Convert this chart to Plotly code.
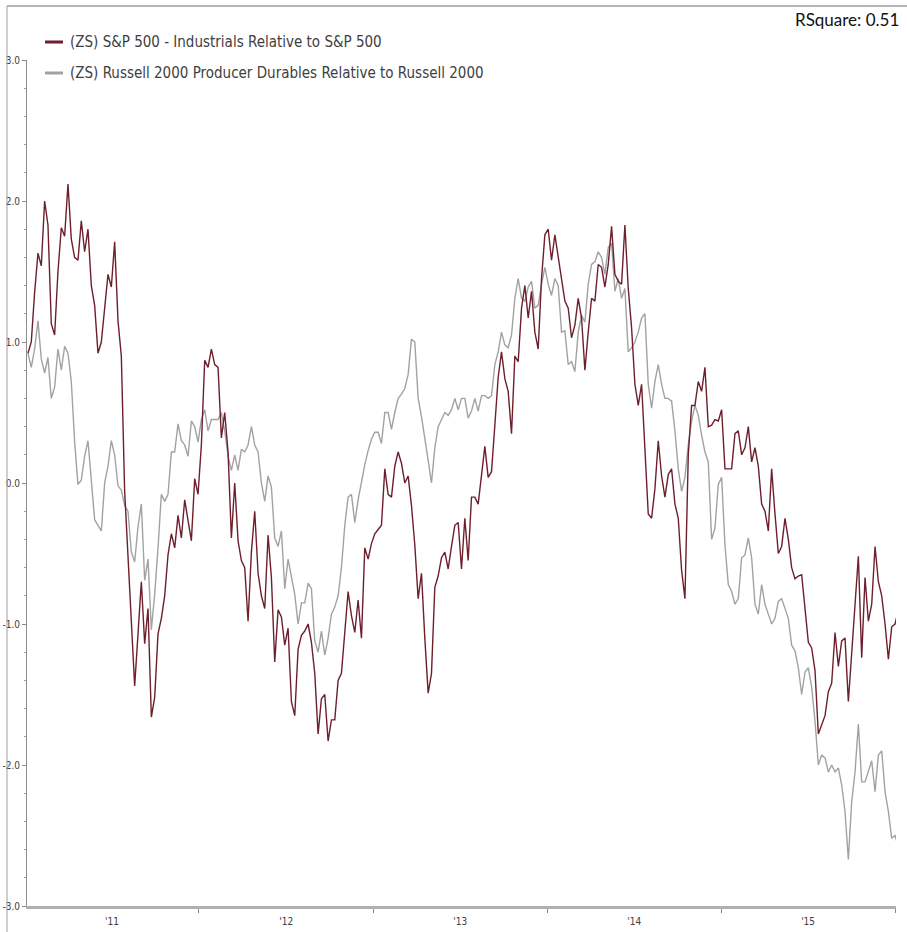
import pandas as pd
import plotly.graph_objects as go

# Weekly z-scores of sector performance relative to the broad index
dates = pd.date_range("2011-01-07", periods=262, freq="7D")

sp500_industrials = [
    0.92, 1.0, 1.35, 1.63, 1.54, 2.0, 1.83, 1.13, 1.05, 1.5,
    1.81, 1.75, 2.12, 1.73, 1.6, 1.58, 1.86, 1.64, 1.8, 1.4,
    1.26, 0.92, 1.0, 1.25, 1.48, 1.39, 1.71, 1.15, 0.9, -0.06,
    -0.5, -0.96, -1.44, -1.07, -0.7, -1.14, -0.89, -1.66, -1.52, -1.07,
    -0.96, -0.8, -0.51, -0.36, -0.46, -0.23, -0.39, -0.12, -0.28, -0.41,
    0.03, -0.08, 0.27, 0.87, 0.82, 0.95, 0.84, 0.82, 0.32, 0.5,
    0.22, -0.39, 0.0, -0.41, -0.55, -0.6, -0.98, -0.49, -0.2, -0.64,
    -0.8, -0.89, -0.37, -0.67, -1.27, -0.9, -0.95, -1.15, -1.03, -1.55,
    -1.65, -1.18, -1.08, -1.05, -1.0, -1.13, -1.35, -1.78, -1.53, -1.5,
    -1.83, -1.68, -1.68, -1.4, -1.35, -1.03, -0.77, -0.94, -1.06, -0.83,
    -1.1, -0.46, -0.54, -0.43, -0.36, -0.33, -0.3, 0.1, -0.08, -0.1,
    0.12, 0.22, 0.14, 0.0, 0.05, -0.16, -0.44, -0.82, -0.64, -1.1,
    -1.49, -1.35, -0.74, -0.66, -0.53, -0.49, -0.61, -0.45, -0.3, -0.28,
    -0.61, -0.25, -0.55, -0.1, -0.1, -0.15, 0.06, 0.26, 0.04, 0.08,
    0.41, 0.75, 0.93, 0.74, 0.65, 0.35, 0.9, 0.86, 1.24, 1.4,
    1.17, 1.36, 1.07, 0.95, 1.45, 1.76, 1.8, 1.58, 1.76, 1.6,
    1.45, 1.29, 1.24, 1.03, 1.12, 1.31, 1.17, 0.8, 1.07, 1.31,
    1.29, 1.55, 1.53, 1.39, 1.55, 1.82, 1.48, 1.43, 1.41, 1.83,
    1.38, 1.1, 0.7, 0.55, 0.7, 0.2, -0.22, -0.25, -0.04, 0.3,
    0.05, -0.1, 0.06, 0.1, -0.15, -0.25, -0.62, -0.82, 0.2, 0.55,
    0.55, 0.72, 0.65, 0.82, 0.4, 0.41, 0.45, 0.44, 0.52, 0.1,
    0.1, 0.1, 0.35, 0.37, 0.2, 0.25, 0.4, 0.15, 0.25, 0.12,
    -0.15, -0.2, -0.34, 0.1, -0.22, -0.5, -0.45, -0.25, -0.4, -0.6,
    -0.68, -0.66, -0.65, -0.9, -1.13, -1.17, -1.33, -1.78, -1.72, -1.65,
    -1.48, -1.42, -1.06, -1.3, -1.12, -1.1, -1.55, -1.2, -0.8, -0.52,
    -1.24, -0.67, -0.98, -0.86, -0.45, -0.7, -0.8, -1.0, -1.25, -1.02,
    -1.0, -0.9,
]

r2000_producer_durables = [
    0.92, 0.82, 0.95, 1.15, 0.88, 0.78, 0.89, 0.6, 0.68, 0.95,
    0.8, 0.97, 0.92, 0.72, 0.29, -0.01, 0.02, 0.19, 0.3, -0.01,
    -0.26, -0.3, -0.34, 0.0, 0.12, 0.3, 0.2, -0.02, -0.05, -0.16,
    -0.2, -0.49, -0.56, -0.31, -0.15, -0.69, -0.54, -1.04, -0.79, -0.46,
    -0.08, -0.13, -0.08, 0.22, 0.22, 0.42, 0.3, 0.27, 0.19, 0.44,
    0.4, 0.29, 0.45, 0.52, 0.37, 0.45, 0.45, 0.45, 0.5, 0.37,
    0.19, 0.09, 0.2, 0.09, 0.24, 0.22, 0.27, 0.4, 0.27, 0.22,
    0.0, -0.13, 0.05, -0.03, -0.39, -0.45, -0.34, -0.75, -0.54, -0.66,
    -0.79, -1.0, -0.85, -0.85, -0.71, -0.75, -1.12, -1.2, -1.05, -1.22,
    -1.1, -0.93, -0.88, -0.8, -0.6, -0.3, -0.1, -0.08, -0.28, -0.12,
    0.02, 0.13, 0.23, 0.31, 0.36, 0.36, 0.28, 0.5, 0.5, 0.38,
    0.5, 0.6, 0.63, 0.67, 0.77, 1.02, 1.0, 0.6, 0.47, 0.3,
    0.16, 0.0, 0.25, 0.4, 0.45, 0.5, 0.48, 0.52, 0.6, 0.52,
    0.6, 0.6, 0.46, 0.51, 0.6, 0.51, 0.62, 0.62, 0.6, 0.62,
    0.84, 0.93, 1.07, 0.98, 0.96, 1.05, 1.31, 1.45, 1.31, 1.29,
    1.39, 1.43, 1.24, 1.26, 1.41, 1.53, 1.41, 1.33, 1.45, 1.4,
    1.07, 1.08, 0.84, 0.86, 0.79, 1.07, 1.19, 1.14, 1.41, 1.55,
    1.57, 1.64, 1.6, 1.48, 1.67, 1.7, 1.36, 1.45, 1.31, 1.38,
    0.93, 0.96, 1.0, 1.07, 1.17, 1.2, 0.7, 0.53, 0.72, 0.84,
    0.7, 0.6, 0.6, 0.58, 0.37, 0.1, -0.06, 0.04, 0.27, 0.44,
    0.55, 0.48, 0.34, 0.22, 0.15, -0.4, -0.32, -0.01, 0.04, -0.44,
    -0.72, -0.77, -0.86, -0.82, -0.53, -0.51, -0.39, -0.53, -0.86, -0.93,
    -0.72, -0.86, -0.93, -1.0, -0.96, -0.84, -0.82, -0.89, -0.96, -1.15,
    -1.19, -1.31, -1.5, -1.34, -1.31, -1.45, -1.69, -2.0, -1.93, -1.95,
    -2.05, -2.0, -2.05, -2.02, -2.14, -2.33, -2.67, -2.26, -2.05, -1.71,
    -2.12, -2.12, -2.05, -1.97, -2.19, -1.93, -1.9, -2.19, -2.33, -2.52,
    -2.5, -2.58,
]

series_names = [
    "(ZS) S&P 500 - Industrials Relative to S&P 500",
    "(ZS) Russell 2000 Producer Durables Relative to Russell 2000",
]
series_colors = ["#6d1f2c", "#a2a2a2"]
y_ticks = [-3, -2, -1, 0, 1, 2, 3]
rsquare_text = "RSquare: 0.51"

W, H = 907, 932
L, R, T, B = 27, 11, 60, 26
PW, PH = W - L - R, H - T - B

def px_x(p):
    return (p - L) / PW

def px_y(p):
    return (H - B - p) / PH

NARROW = "Liberation Sans Narrow, Arial Narrow, DejaVu Sans Condensed, sans-serif"

fig = go.Figure()
for vals, name, col in zip([r2000_producer_durables, sp500_industrials],
                           series_names[::-1], series_colors[::-1]):
    fig.add_trace(go.Scatter(x=dates, y=vals, mode="lines", name=name,
                             line=dict(color=col, width=1.4), showlegend=False))

fig.update_xaxes(
    type="date", range=["2011-01-05", "2016-01-03"], automargin=False,
    tick0="2011-01-01", dtick="M12", tickformat="'%y", ticklabelmode="period",
    ticks="outside", ticklen=4, tickcolor="#8a8a8a", tickwidth=1,
    showline=True, linecolor="#b0b0b0", linewidth=2.5,
    showgrid=False, zeroline=False,
    tickfont=dict(family=NARROW, size=10, color="#404040"),
)
fig.update_yaxes(
    range=[-3, 3], tickmode="array", tickvals=y_ticks, automargin=False,
    ticktext=[f"{v:.1f}" for v in y_ticks],
    ticks="outside", ticklen=4, tickcolor="#8a8a8a", tickwidth=1,
    minor=dict(dtick=0.2, tick0=0, ticks="outside", ticklen=2, tickcolor="#a0a0a0"),
    showline=True, linecolor="#8c8c8c", linewidth=1,
    showgrid=False, zeroline=False,
    tickfont=dict(family=NARROW, size=10, color="#404040"),
)

shapes = [
    # outer frame edges
    dict(type="line", xref="paper", yref="paper", x0=px_x(7), x1=px_x(W + 5),
         y0=px_y(6), y1=px_y(6), line=dict(color="#6a6a6a", width=1)),
    dict(type="line", xref="paper", yref="paper", x0=px_x(7), x1=px_x(7),
         y0=px_y(6), y1=px_y(H + 5), line=dict(color="#a0a0a0", width=1)),
]
annotations = []
legend_rows = [42, 73]
for name, col, yrow in zip(series_names, series_colors, legend_rows):
    shapes.append(dict(type="line", xref="paper", yref="paper",
                       x0=px_x(45), x1=px_x(63), y0=px_y(yrow), y1=px_y(yrow),
                       line=dict(color=col, width=3)))
    annotations.append(dict(xref="paper", yref="paper", x=px_x(68), y=px_y(yrow),
                            xanchor="left", yanchor="middle", showarrow=False,
                            text=name, font=dict(family=NARROW, size=15, color="#404040")))
annotations.append(dict(xref="paper", yref="paper", x=px_x(901), y=px_y(19),
                        xanchor="right", yanchor="middle", showarrow=False,
                        text=rsquare_text,
                        font=dict(family="Lato, Open Sans, sans-serif", size=17, color="#111111")))

fig.update_layout(
    width=W, height=H, margin=dict(l=L, r=R, t=T, b=B),
    paper_bgcolor="white", plot_bgcolor="white",
    shapes=shapes, annotations=annotations, showlegend=False,
)

fig.write_html("out.html")
